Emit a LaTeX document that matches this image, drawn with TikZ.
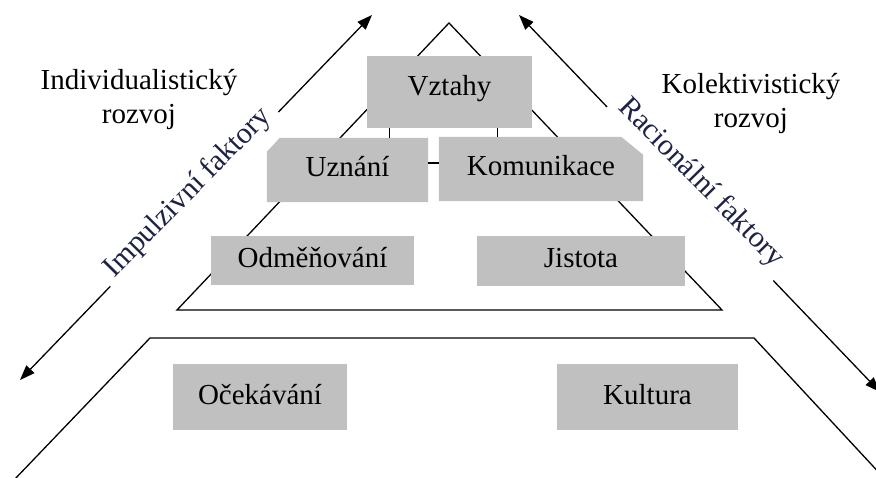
\documentclass[tikz,border=0pt]{standalone}
\usepackage{fontspec}
\setmainfont{Liberation Serif}
\usetikzlibrary{arrows.meta}
\definecolor{boxgray}{RGB}{192,192,192}
\definecolor{wordart}{RGB}{30,35,70}
\pgfdeclarelayer{lines}
\pgfdeclarelayer{boxes}
\pgfsetlayers{lines,boxes,main}
\begin{document}
\begin{tikzpicture}[x=1pt,y=-1pt,
  every node/.style={font=\fontsize{29}{34}\selectfont},
  edge/.style={line width=1.3pt, line cap=round, line join=miter},
  trend/.style={line width=1.3pt, {Triangle[length=15pt,width=11pt]}-{Triangle[length=15pt,width=11pt]}},
  tier/.style={fill=boxgray, inner sep=0pt, text height=20pt, text depth=6pt},
  cutbox/.style={tier, fill=none},
  caption/.style={align=center, inner sep=0pt},
  slanted/.style={fill=white, text=wordart, inner xsep=8pt, inner ysep=5pt, font=\fontsize{30}{34}\selectfont}
]
\useasboundingbox (0,0) rectangle (876,478);
\clip (0,0) rectangle (876,478);

\begin{pgfonlayer}{lines}
% upper pyramid and lower tier
\coordinate (apex) at (449,23);
\coordinate (ul) at (177,310);
\coordinate (ur) at (722,310);
\coordinate (tl) at (150,338);
\coordinate (tr) at (754,338);
\coordinate (bl) at (14,480);
\coordinate (br) at (884,478);
\draw[edge] (ul) -- (apex) -- (ur) -- cycle;
\draw[edge] (bl) -- (tl) -- (tr) -- (br);

% development arrows
\coordinate (la) at (20,380);
\coordinate (lb) at (372,15);
\coordinate (ra) at (519,15);
\coordinate (rb) at (880,392);
\draw[trend] (la) -- (lb);
\draw[trend] (ra) -- (rb);
\end{pgfonlayer}

\node[slanted, rotate=45.5] (imp) at (188,193) {Impulzivní faktory};
\node[slanted, rotate=-45.5] (rac) at (701,183) {Racionální faktory};

% side captions
\node[caption] (ind) at (139,100) {Individualistický\\rozvoj};
\node[caption] (kol) at (751,104) {Kolektivistický\\rozvoj};

% boxes
\node[tier, minimum width=165pt, minimum height=72pt, text depth=12pt] (vz) at (449.5,92) {Vztahy};
\node[cutbox, minimum width=161pt, minimum height=64pt] (uz) at (347.5,170) {Uznání};
\node[cutbox, minimum width=204pt, minimum height=64pt] (ko) at (541,169) {Komunikace};
\node[tier, minimum width=203pt, minimum height=49pt] (od) at (312.5,260.5) {Odměňování};
\node[tier, minimum width=208pt, minimum height=50pt] (ji) at (581,261) {Jistota};
\node[tier, minimum width=174pt, minimum height=66pt] (oc) at (260,397) {Očekávání};
\node[tier, minimum width=181pt, minimum height=66pt] (ku) at (647.5,397) {Kultura};

% boxes with one cut corner
\begin{pgfonlayer}{boxes}
\fill[boxgray] ([yshift=-14pt]uz.north west) -- ([xshift=13pt]uz.north west)
  -- (uz.north east) -- (uz.south east) -- (uz.south west) -- cycle;
\fill[boxgray] (ko.north west) -- ([xshift=-22pt]ko.north east)
  -- ([yshift=-18pt]ko.north east) -- (ko.south east) -- (ko.south west) -- cycle;
\end{pgfonlayer}

% links between the top boxes
\draw[line width=1.3pt] ([xshift=23pt]vz.south west) -- ([xshift=23pt]vz.south west |- uz.north);
\draw[line width=1.3pt] ([xshift=-35pt]vz.south east) -- ([xshift=-35pt]vz.south east |- ko.north);
\draw[line width=1.3pt] ([yshift=7pt]uz.east) -- ([yshift=7pt]uz.east -| ko.west);
\end{tikzpicture}
\end{document}
